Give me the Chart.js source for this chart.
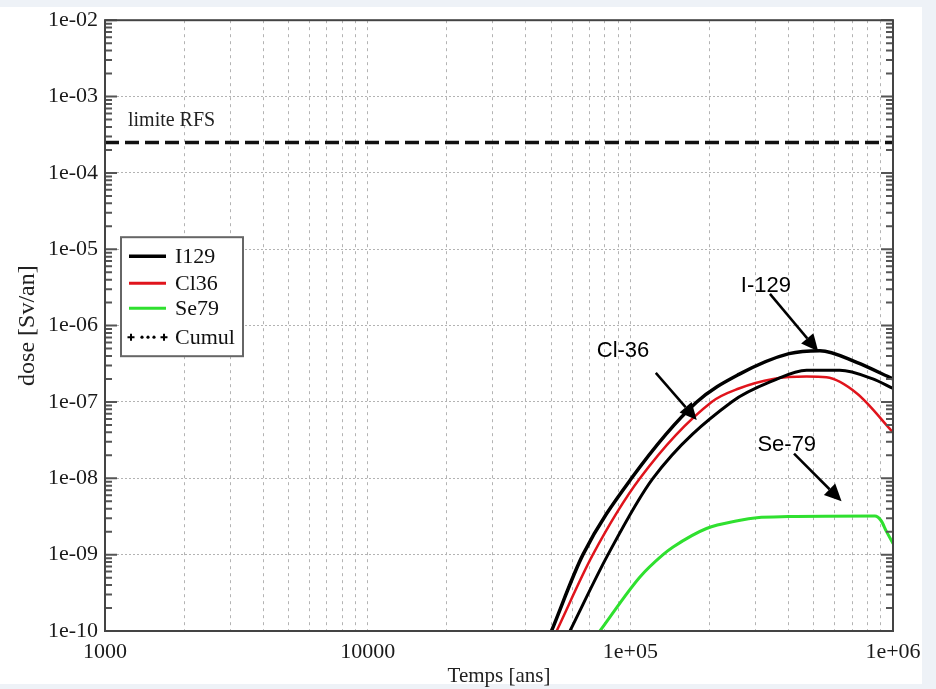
<!DOCTYPE html>
<html lang="fr">
<head>
<meta charset="UTF-8">
<title>Dose [Sv/an]</title>
<script src="https://cdn.jsdelivr.net/npm/chart.js"></script>
<style>
    body {
        margin: 0;
        padding: 0;
        background: #eef2f7;
    }

    .frame {
        position: absolute;
        left: 0;
        top: 7px;
        width: 922px;
        height: 677px;
        background: #fff;
    }

    canvas {
        position: absolute;
        left: 0;
        top: 0;
    }
</style>
</head>
<body>
<div class="frame"></div>
<canvas id="doseChart" width="936" height="689"></canvas>
<script>
    // temps [ans] et dose [Sv/an]
    const i129Years = [58900, 82200, 121900, 243000, 350000, 469000, 627000, 838000, 1000000];
    const i129Dose = [1e-10, 1e-9, 1e-8, 1e-7, 1.9e-7, 2.6e-7, 2.6e-7, 2.0e-7, 1.5e-7];

    const cl36Years = [52400, 72000, 108800, 204000, 259000, 350000, 469000, 558000, 727000, 1000000];
    const cl36Dose = [1e-10, 1e-9, 1e-8, 1e-7, 1.5e-7, 2.0e-7, 2.15e-7, 2.1e-7, 1.3e-7, 4.0e-8];

    const se79Years = [76600, 108800, 133200, 145500, 195000, 259000, 303000, 400000, 853000, 900000, 945000, 1000000];
    const se79Dose = [1e-10, 5.1e-10, 1e-9, 1.26e-9, 2.2e-9, 2.8e-9, 3.05e-9, 3.15e-9, 3.2e-9, 2.8e-9, 2.0e-9, 1.4e-9];

    const cumulYears = [50100, 66000, 101000, 179000, 259000, 402000, 527000, 727000, 1000000];
    const cumulDose = [1e-10, 1e-9, 1e-8, 1e-7, 2.3e-7, 4.3e-7, 4.7e-7, 3.3e-7, 2.0e-7];

    const limiteRFS = 2.5e-4;

    // ticks
    const xDecades = [1000, 10000, 100000, 1000000];
    const xDecadeLabels = ['1000', '10000', '1e+05', '1e+06'];
    const yDecades = [1e-10, 1e-9, 1e-8, 1e-7, 1e-6, 1e-5, 1e-4, 1e-3, 1e-2];
    const yDecadeLabels = ['1e-10', '1e-09', '1e-08', '1e-07', '1e-06', '1e-05', '1e-04', '1e-03', '1e-02'];
    const minorSteps = [2, 3, 4, 5, 6, 7, 8, 9];

    const serif = '"Liberation Serif", "DejaVu Serif", serif';
    const sans = '"Liberation Sans", Arial, sans-serif';

    function toPoints(xs, ys) {
        return xs.map((x, i) => ({ x: x, y: ys[i] }));
    }

    // annotations (coordonnées en données)
    const notes = [
        { text: 'I-129', at: [328000, 3.3e-6], from: [340000, 2.6e-6], to: [519000, 4.6e-7] },
        { text: 'Cl-36', at: [93800, 4.7e-7], from: [125000, 2.4e-7], to: [179000, 5.8e-8] },
        { text: 'Se-79', at: [394000, 2.7e-8], from: [420000, 2.1e-8], to: [637000, 5.0e-9] }
    ];

    const legendItems = [
        { label: 'I129', color: '#000', width: 3.5 },
        { label: 'Cl36', color: '#e0141c', width: 3 },
        { label: 'Se79', color: '#2fe02f', width: 3 },
        { label: 'Cumul', color: '#000', dotted: true }
    ];

    const decorPlugin = {
        id: 'decor',
        afterDatasetsDraw(chart) {
            const { ctx, chartArea: a, scales } = chart;
            const xs = scales.x, ys = scales.y;
            ctx.save();

            // petits ticks mineurs sur les axes verticaux
            ctx.strokeStyle = '#555';
            ctx.lineWidth = 2;
            yDecades.forEach((d, k) => {
                const py = ys.getPixelForValue(d);
                ctx.beginPath();
                ctx.moveTo(a.left, py); ctx.lineTo(a.left + 12, py);
                ctx.moveTo(a.right, py); ctx.lineTo(a.right - 12, py);
                ctx.stroke();
                if (k === yDecades.length - 1) return;
                minorSteps.forEach(m => {
                    const p = ys.getPixelForValue(m * d);
                    ctx.beginPath();
                    ctx.moveTo(a.left, p); ctx.lineTo(a.left + 7, p);
                    ctx.moveTo(a.right, p); ctx.lineTo(a.right - 7, p);
                    ctx.stroke();
                });
            });

            // cadre
            ctx.strokeStyle = '#444';
            ctx.lineWidth = 2;
            ctx.strokeRect(a.left, a.top, a.right - a.left, a.bottom - a.top);

            // texte limite RFS
            ctx.fillStyle = '#222';
            ctx.font = '20px ' + serif;
            ctx.textAlign = 'left';
            ctx.textBaseline = 'middle';
            ctx.fillText('limite RFS', xs.getPixelForValue(1223), ys.getPixelForValue(4.8e-4));

            // légende
            const lx = a.left + 16, ly = a.top + 217;
            ctx.fillStyle = '#fff';
            ctx.fillRect(lx, ly, 122, 119);
            ctx.strokeStyle = '#666';
            ctx.lineWidth = 2;
            ctx.strokeRect(lx, ly, 122, 119);
            const rows = [19, 46, 71, 100];
            legendItems.forEach((it, i) => {
                const y = ly + rows[i];
                if (it.dotted) {
                    ctx.fillStyle = '#000';
                    ctx.strokeStyle = '#000';
                    ctx.lineWidth = 2;
                    [lx + 10, lx + 43].forEach(cx => {
                        ctx.beginPath();
                        ctx.moveTo(cx - 3.5, y); ctx.lineTo(cx + 3.5, y);
                        ctx.moveTo(cx, y - 3.5); ctx.lineTo(cx, y + 3.5);
                        ctx.stroke();
                    });
                    [lx + 21, lx + 27, lx + 33].forEach(cx => {
                        ctx.beginPath();
                        ctx.arc(cx, y, 1.6, 0, Math.PI * 2);
                        ctx.fill();
                    });
                } else {
                    ctx.strokeStyle = it.color;
                    ctx.lineWidth = it.width;
                    ctx.beginPath();
                    ctx.moveTo(lx + 8, y); ctx.lineTo(lx + 45, y);
                    ctx.stroke();
                }
                ctx.fillStyle = '#111';
                ctx.font = '22px ' + serif;
                ctx.textAlign = 'left';
                ctx.textBaseline = 'middle';
                ctx.fillText(it.label, lx + 54, y + 1);
            });

            // flèches + noms
            notes.forEach(n => {
                const x0 = xs.getPixelForValue(n.from[0]), y0 = ys.getPixelForValue(n.from[1]);
                const x1 = xs.getPixelForValue(n.to[0]), y1 = ys.getPixelForValue(n.to[1]);
                const ang = Math.atan2(y1 - y0, x1 - x0);
                const hl = 17, hw = 8;
                const bx = x1 - hl * Math.cos(ang), by = y1 - hl * Math.sin(ang);
                ctx.strokeStyle = '#000';
                ctx.lineWidth = 2.5;
                ctx.beginPath();
                ctx.moveTo(x0, y0); ctx.lineTo(bx, by);
                ctx.stroke();
                ctx.fillStyle = '#000';
                ctx.beginPath();
                ctx.moveTo(x1, y1);
                ctx.lineTo(bx + hw * Math.sin(ang), by - hw * Math.cos(ang));
                ctx.lineTo(bx - hw * Math.sin(ang), by + hw * Math.cos(ang));
                ctx.closePath();
                ctx.fill();

                ctx.font = '22px ' + sans;
                ctx.textAlign = 'center';
                ctx.textBaseline = 'middle';
                ctx.fillText(n.text, xs.getPixelForValue(n.at[0]), ys.getPixelForValue(n.at[1]));
            });
            ctx.restore();
        }
    };

    const ctx = document.getElementById('doseChart').getContext('2d');
    new Chart(ctx, {
        type: 'line',
        data: {
            datasets: [
                {
                    label: 'limite RFS',
                    data: [{ x: 1000, y: limiteRFS }, { x: 1000000, y: limiteRFS }],
                    borderColor: '#111',
                    borderWidth: 3.5,
                    borderDash: [14, 6],
                    pointRadius: 0
                },
                {
                    label: 'Se79',
                    data: toPoints(se79Years, se79Dose),
                    borderColor: '#2fe02f',
                    borderWidth: 3,
                    pointRadius: 0,
                    cubicInterpolationMode: 'monotone'
                },
                {
                    label: 'I129',
                    data: toPoints(i129Years, i129Dose),
                    borderColor: '#000',
                    borderWidth: 3,
                    pointRadius: 0,
                    cubicInterpolationMode: 'monotone'
                },
                {
                    label: 'Cl36',
                    data: toPoints(cl36Years, cl36Dose),
                    borderColor: '#e0141c',
                    borderWidth: 2.5,
                    pointRadius: 0,
                    cubicInterpolationMode: 'monotone'
                },
                {
                    label: 'Cumul',
                    data: toPoints(cumulYears, cumulDose),
                    borderColor: '#000',
                    borderWidth: 3.5,
                    pointRadius: 0,
                    cubicInterpolationMode: 'monotone'
                }
            ]
        },
        options: {
            responsive: false,
            animation: false,
            layout: { padding: { left: 0, top: 19, right: 43, bottom: 0 } },
            plugins: {
                legend: { display: false },
                tooltip: { enabled: false }
            },
            scales: {
                x: {
                    type: 'logarithmic',
                    min: 1000,
                    max: 1000000,
                    afterFit: s => { s.height = 58; },
                    afterBuildTicks: s => {
                        const t = [];
                        xDecades.forEach((d, k) => {
                            t.push({ value: d });
                            if (k < xDecades.length - 1) minorSteps.forEach(m => t.push({ value: m * d }));
                        });
                        s.ticks = t;
                    },
                    ticks: {
                        autoSkip: false,
                        maxRotation: 0,
                        padding: 8,
                        color: '#1a1a1a',
                        font: { family: serif, size: 22 },
                        callback: v => {
                            const i = xDecades.indexOf(v);
                            return i >= 0 ? xDecadeLabels[i] : '';
                        }
                    },
                    grid: { color: '#b3b3b3', lineWidth: 1, drawTicks: false },
                    border: { display: false, dash: [3, 4] },
                    title: {
                        display: true,
                        text: 'Temps [ans]',
                        color: '#222',
                        font: { family: serif, size: 21 },
                        padding: { top: 0, bottom: 0 }
                    }
                },
                y: {
                    type: 'logarithmic',
                    min: 1e-10,
                    max: 1e-2,
                    afterFit: s => { s.width = 105; },
                    afterBuildTicks: s => {
                        s.ticks = yDecades.map(v => ({ value: v }));
                    },
                    ticks: {
                        autoSkip: false,
                        padding: 7,
                        color: '#1a1a1a',
                        font: { family: serif, size: 22 },
                        callback: v => {
                            const i = yDecades.indexOf(v);
                            return i >= 0 ? yDecadeLabels[i] : '';
                        }
                    },
                    grid: { color: '#b3b3b3', lineWidth: 1, drawTicks: false },
                    border: { display: false, dash: [2, 2] },
                    title: {
                        display: true,
                        text: 'dose [Sv/an]',
                        color: '#222',
                        font: { family: serif, size: 24 },
                        padding: { top: 13, bottom: 0 }
                    }
                }
            }
        },
        plugins: [decorPlugin]
    });
</script>
</body>
</html>
